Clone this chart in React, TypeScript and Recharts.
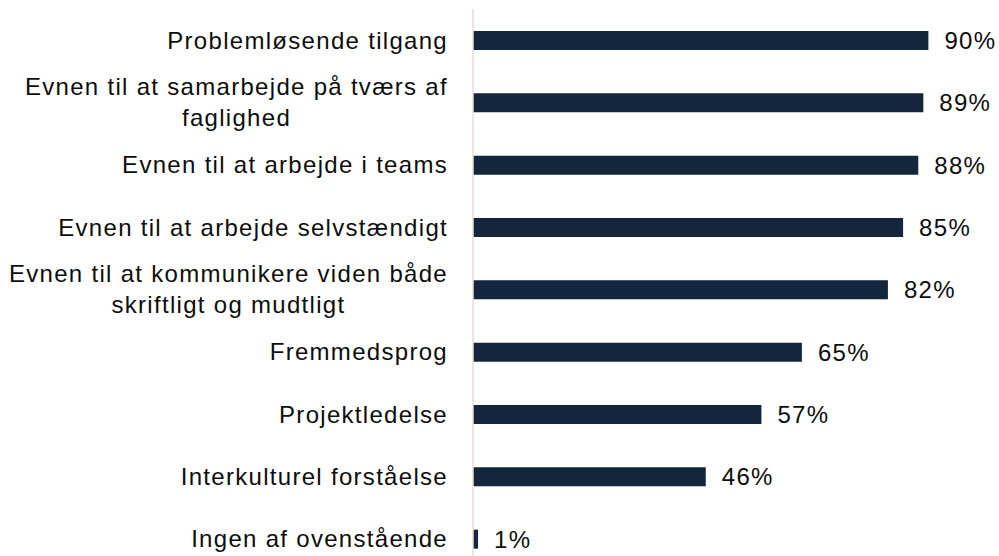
import React from "react";
import { BarChart, Bar, XAxis, YAxis, LabelList } from "recharts";

const categories = [
  "Problemløsende tilgang",
  "Evnen til at samarbejde på tværs af\nfaglighed",
  "Evnen til at arbejde i teams",
  "Evnen til at arbejde selvstændigt",
  "Evnen til at kommunikere viden både\nskriftligt og mudtligt",
  "Fremmedsprog",
  "Projektledelse",
  "Interkulturel forståelse",
  "Ingen af ovenstående",
];
const shares = [90, 89, 88, 85, 82, 65, 57, 46, 1];

const FONT = "'Liberation Sans', Arial, sans-serif";
const FONT_SIZE = 24;
const SPACING = 1.3;

const data = categories.map((name, i) => ({ name, value: shares[i] }));

let ctx: CanvasRenderingContext2D | null = null;
function textWidth(s: string) {
  if (!ctx) ctx = document.createElement("canvas").getContext("2d");
  if (!ctx) return s.length * 12;
  ctx.font = `${FONT_SIZE}px ${FONT}`;
  return ctx.measureText(s).width + SPACING * s.length;
}

function CategoryTick(props: any) {
  const { x, y, payload } = props;
  const lines: string[] = String(payload.value).split("\n");
  const style = { fontFamily: FONT, fontSize: FONT_SIZE, letterSpacing: SPACING, fill: "#0d0d0d" };
  if (lines.length === 1) {
    return (
      <text x={x} y={y} dy={8.5} textAnchor="end" style={style}>
        {lines[0]}
      </text>
    );
  }
  const mid = x - textWidth(lines[0]) / 2;
  return (
    <g>
      <text x={x} y={y} dy={-7.5} textAnchor="end" style={style}>
        {lines[0]}
      </text>
      <text x={mid} y={y} dy={23.5} textAnchor="middle" style={style}>
        {lines[1]}
      </text>
    </g>
  );
}

export default function App() {
  return (
    <div style={{ position: "absolute", left: 0, top: 0, width: 999, height: 556, overflow: "hidden", background: "#fff" }}>
      <BarChart
        width={999}
        height={570}
        data={data}
        layout="vertical"
        margin={{ top: 9, right: 20, bottom: 0, left: 0 }}
      >
        <XAxis type="number" domain={[0, 100]} hide />
        <YAxis
          type="category"
          dataKey="name"
          width={473}
          interval={0}
          tickLine={false}
          tickSize={0}
          tickMargin={25}
          axisLine={{ stroke: "#e6dfd2", strokeWidth: 1.5 }}
          tick={<CategoryTick />}
        />
        <Bar dataKey="value" fill="#13263b" barSize={19} isAnimationActive={false}>
          <LabelList
            dataKey="value"
            position="right"
            offset={16}
            formatter={(v: any) => `${v}%`}
            style={{ fontFamily: FONT, fontSize: FONT_SIZE, letterSpacing: SPACING, fill: "#0d0d0d" }}
          />
        </Bar>
      </BarChart>
    </div>
  );
}
